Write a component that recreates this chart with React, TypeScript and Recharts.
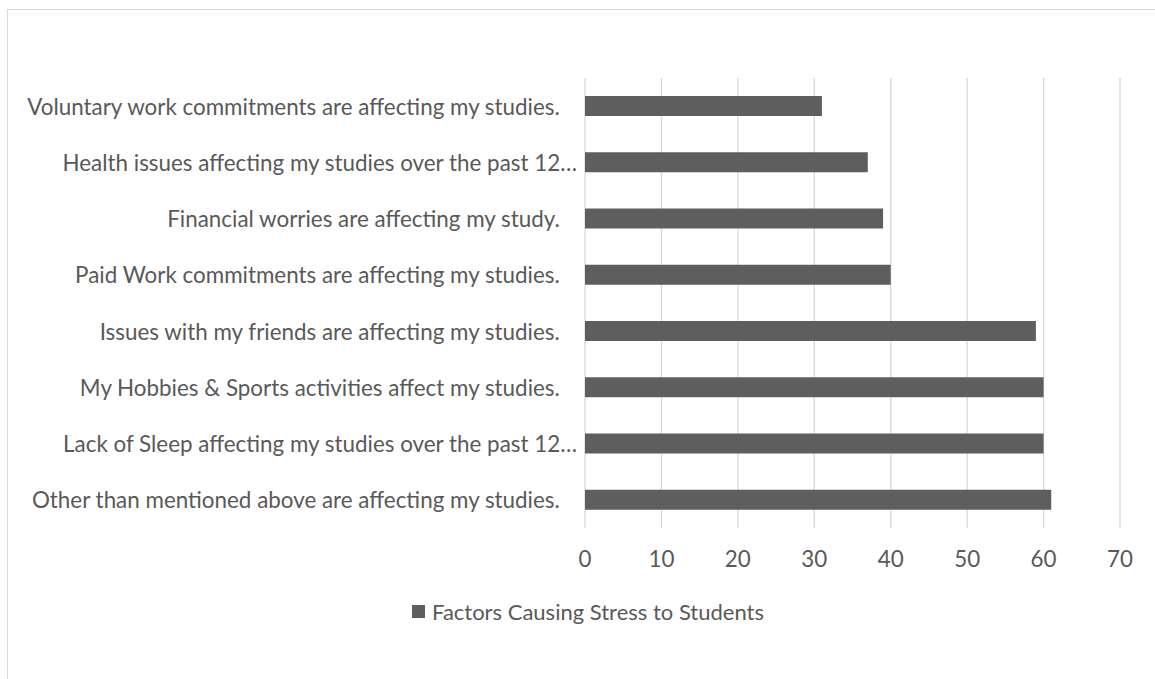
import React from "react";
import { BarChart, Bar, XAxis, YAxis, CartesianGrid, Legend } from "recharts";

const categories = [
  "Voluntary work commitments are affecting my studies.   ",
  "Health issues affecting my studies over the past 12…",
  "Financial worries are affecting my study.   ",
  "Paid Work commitments are affecting my studies.   ",
  "Issues with my friends are affecting my studies.   ",
  "My Hobbies & Sports activities affect my studies.   ",
  "Lack of Sleep affecting my studies over the past 12…",
  "Other than mentioned above are affecting my studies.   ",
];
const values = [31, 37, 39, 40, 59, 60, 60, 61];
const xTicks = [0, 10, 20, 30, 40, 50, 60, 70];
const seriesName = "Factors Causing Stress to Students";

const data = categories.map((c, i) => ({ name: c, value: values[i] }));

const FONT = "Lato, 'Open Sans', sans-serif";
const FS = 22.4;
const TEXT = "#595959";
const BAR = "#5e5e5e";

const YTick = (props: any) => {
  const { x, y, payload } = props;
  return (
    <text
      x={x}
      y={y}
      textAnchor="end"
      dominantBaseline="central"
      fill={TEXT}
      fontSize={FS}
      fontFamily={FONT}
      style={{ whiteSpace: "pre" }}
    >
      {payload.value}
    </text>
  );
};

const LegendContent = () => (
  <div style={{ display: "flex", alignItems: "center", fontFamily: FONT, fontSize: 22, color: TEXT, whiteSpace: "nowrap" }}>
    <span style={{ display: "inline-block", width: 13, height: 13, background: BAR, marginRight: 7 }} />
    <span>{seriesName}</span>
  </div>
);

export default function App() {
  return (
    <div style={{ position: "absolute", left: 0, top: 0, width: 1155, height: 679, overflow: "hidden", background: "#fff" }}>
      <div
        style={{
          position: "absolute",
          left: 7,
          top: 9,
          width: 1170,
          height: 700,
          border: "1px solid #d9d9d9",
          boxSizing: "border-box",
        }}
      />
      <div style={{ position: "absolute", left: 0, top: 0 }}>
        <BarChart
          width={1155}
          height={679}
          data={data}
          layout="vertical"
          margin={{ top: 78, right: 35, bottom: 111, left: 0 }}
          barCategoryGap={0}
        >
          <CartesianGrid horizontal={false} vertical={true} stroke="#d9d9d9" strokeWidth={1.3} />
          <XAxis
            type="number"
            domain={[0, 70]}
            ticks={xTicks}
            axisLine={false}
            tickLine={false}
            tickMargin={17}
            height={40}
            tick={{ fill: TEXT, fontSize: FS, fontFamily: FONT }}
            interval={0}
          />
          <YAxis
            type="category"
            dataKey="name"
            width={585}
            axisLine={false}
            tickLine={false}
            tick={<YTick />}
            interval={0}
          />
          <Bar dataKey="value" name={seriesName} fill={BAR} barSize={20} isAnimationActive={false} />
          <Legend
            layout="horizontal"
            verticalAlign="middle"
            align="center"
            wrapperStyle={{ top: 598, left: 412, width: "auto" }}
            content={<LegendContent />}
          />
        </BarChart>
      </div>
    </div>
  );
}
